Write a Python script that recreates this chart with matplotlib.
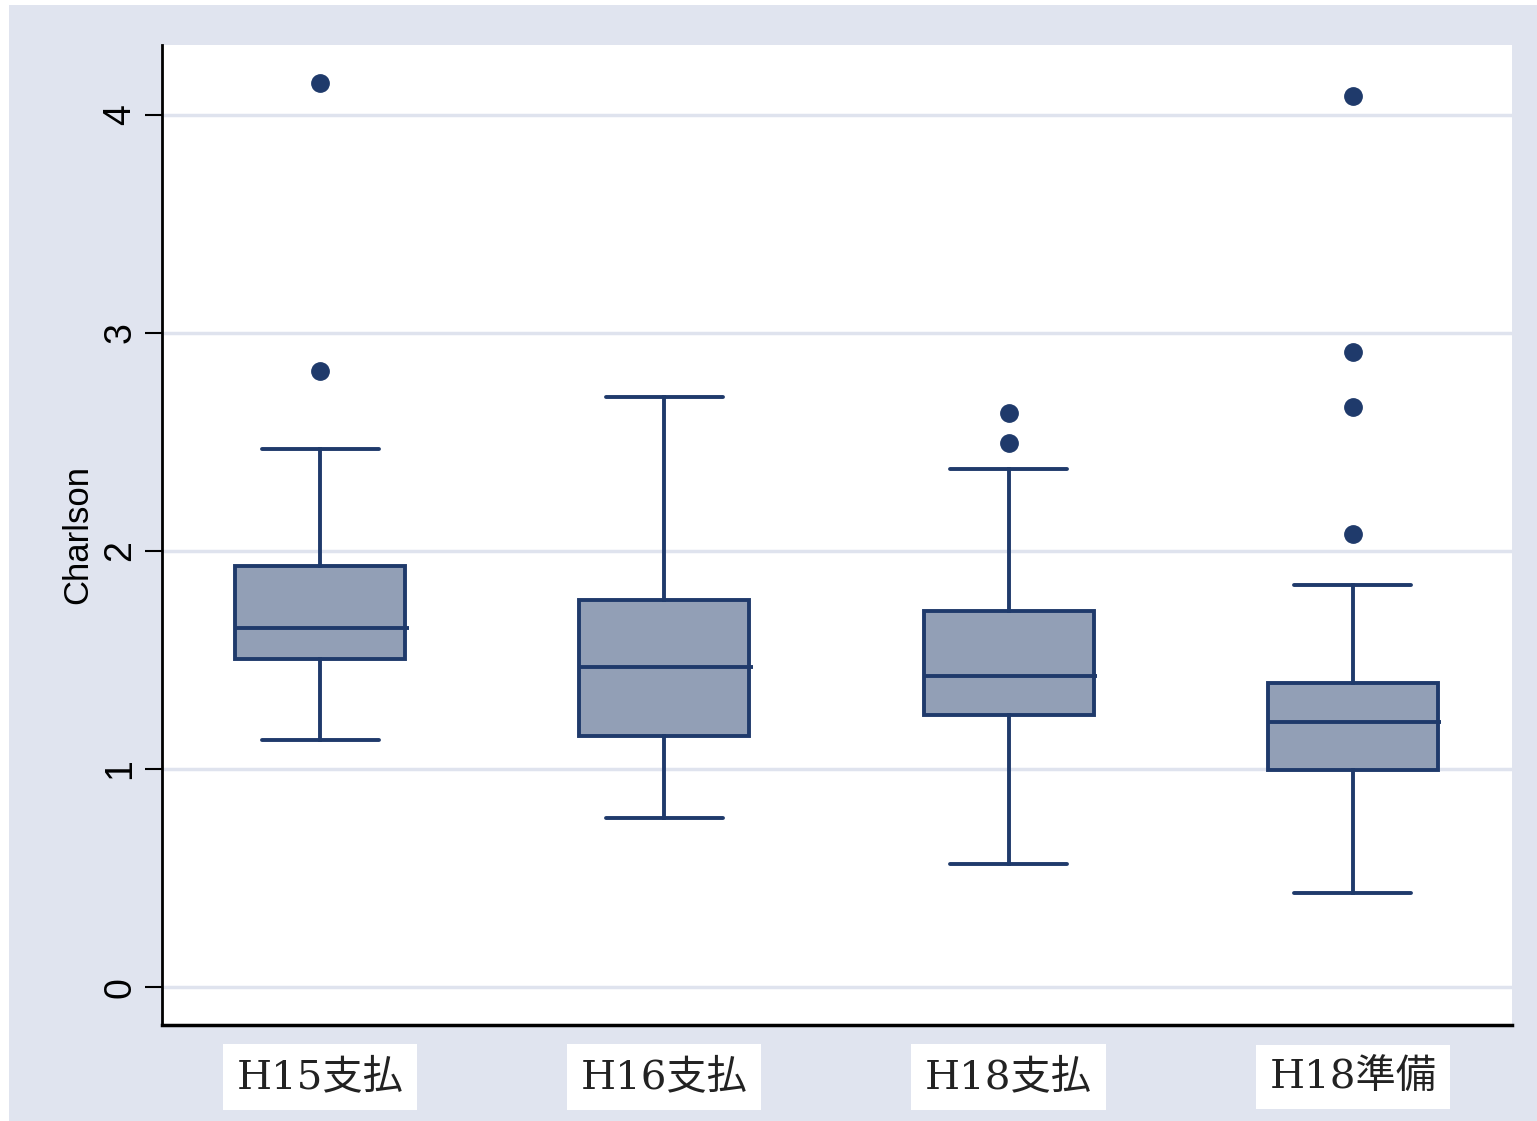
import matplotlib
matplotlib.use("Agg")
import matplotlib.pyplot as plt
import matplotlib.transforms as mtransforms
from matplotlib.patches import Rectangle

# Charlson comorbidity index by period
categories = ["H15支払", "H16支払", "H18支払", "H18準備"]
q1 = [1.505, 1.151, 1.248, 0.995]
median = [1.647, 1.468, 1.427, 1.216]
q3 = [1.931, 1.775, 1.725, 1.394]
whisker_low = [1.133, 0.775, 0.564, 0.431]
whisker_high = [2.468, 2.706, 2.376, 1.844]
outliers = [
    [4.147, 2.826],
    [],
    [2.633, 2.495],
    [4.087, 2.913, 2.661, 2.078],
]
yticks = [0, 1, 2, 3, 4]

W, H = 1537, 1121
BG = "#e0e4ef"
NAVY = "#1f3a6b"
FILL = "#929fb6"

fig = plt.figure(figsize=(W / 100, H / 100), dpi=100)
fig.patch.set_facecolor("white")
fig.add_artist(Rectangle((9 / W, 0), 1 - 9 / W, 1 - 5 / H,
                         transform=fig.transFigure, facecolor=BG,
                         edgecolor="none", zorder=0))

ax = fig.add_axes([162 / W, (H - 1025) / H, (1512 - 162) / W, (1025 - 45) / H])
ax.set_facecolor("white")

positions = list(range(1, len(categories) + 1))
stats = []
for i, name in enumerate(categories):
    stats.append(dict(label=name, q1=q1[i], med=median[i], q3=q3[i],
                      whislo=whisker_low[i], whishi=whisker_high[i],
                      fliers=outliers[i]))

lw = 2.8
box_w = 0.494
parts = ax.bxp(stats, positions=positions, widths=box_w, capwidths=0.34,
               patch_artist=True, showfliers=True,
               boxprops=dict(facecolor=FILL, edgecolor=NAVY, linewidth=lw),
               medianprops=dict(color=NAVY, linewidth=lw, solid_capstyle="butt"),
               whiskerprops=dict(color=NAVY, linewidth=lw),
               capprops=dict(color=NAVY, linewidth=lw, solid_capstyle="round"),
               flierprops=dict(marker="o", markerfacecolor=NAVY, markeredgecolor=NAVY,
                               markersize=12.5, linestyle="none"),
               zorder=3)

# median bars run a touch past the right edge of each box
for line, p in zip(parts["medians"], positions):
    line.set_xdata([p - box_w / 2, p + box_w / 2 + 0.01])

ax.set_xlim(0.541, 4.462)
ax.set_ylim(-0.174, 4.321)

ax.set_yticks(yticks)
ax.set_yticklabels([str(t) for t in yticks], rotation=90, va="center",
                   fontsize=27, family="Liberation Sans")
ax.tick_params(axis="y", length=12, width=1.5, pad=5, color="black")
ax.grid(axis="y", color="#dfe3ee", linewidth=2.5, zorder=0)
ax.set_axisbelow(True)

ax.set_xticks([])
for side in ["top", "right"]:
    ax.spines[side].set_visible(False)
ax.spines["left"].set_linewidth(2)
ax.spines["bottom"].set_linewidth(2.5)

ax.set_ylabel("Charlson", fontsize=25, family="Liberation Sans", labelpad=6)

# Category labels set in white boxes below the axis
trans = mtransforms.blended_transform_factory(ax.transData, ax.transAxes)
for p, name in zip(positions, categories):
    ax.text(p, -0.053, name, transform=trans, ha="center", va="center",
            fontsize=29, family=["DejaVu Serif", "Noto Sans CJK JP"],
            color="#222222",
            bbox=dict(facecolor="white", edgecolor="none", pad=10),
            clip_on=False)

fig.savefig("out.png", dpi=100, facecolor=fig.get_facecolor())
